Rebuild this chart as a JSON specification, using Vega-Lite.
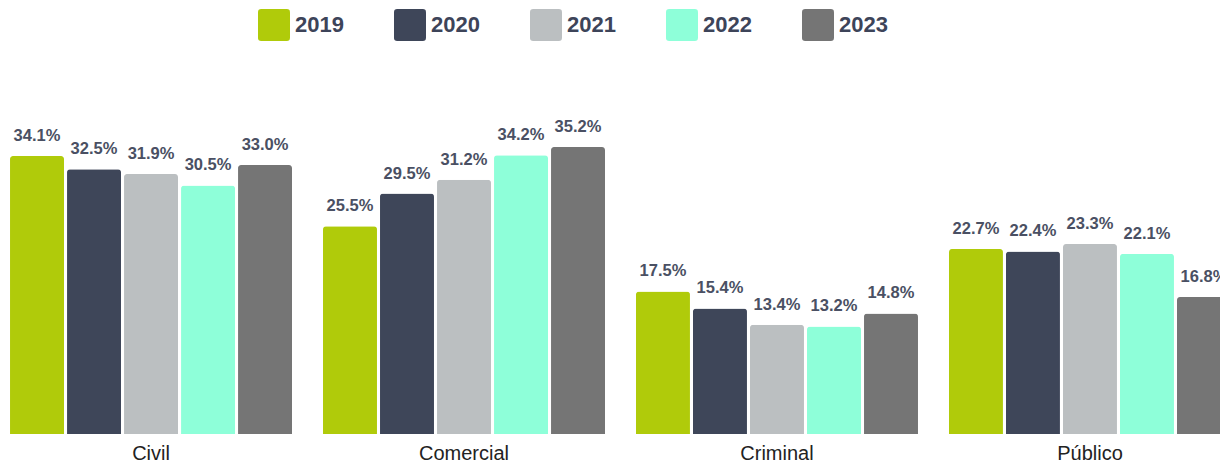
{
  "$schema": "https://vega.github.io/schema/vega-lite/v6.json",
  "width": 1220,
  "height": 326,
  "autosize": {"type": "none"},
  "padding": {"left": 0, "top": 108, "right": 0, "bottom": 29},
  "background": "white",
  "config": {"view": {"stroke": null}, "font": "Liberation Sans"},
  "data": {
    "values": [
      {"category": "Civil", "year": "2019", "value": 0.341},
      {"category": "Civil", "year": "2020", "value": 0.325},
      {"category": "Civil", "year": "2021", "value": 0.319},
      {"category": "Civil", "year": "2022", "value": 0.305},
      {"category": "Civil", "year": "2023", "value": 0.330},
      {"category": "Comercial", "year": "2019", "value": 0.255},
      {"category": "Comercial", "year": "2020", "value": 0.295},
      {"category": "Comercial", "year": "2021", "value": 0.312},
      {"category": "Comercial", "year": "2022", "value": 0.342},
      {"category": "Comercial", "year": "2023", "value": 0.352},
      {"category": "Criminal", "year": "2019", "value": 0.175},
      {"category": "Criminal", "year": "2020", "value": 0.154},
      {"category": "Criminal", "year": "2021", "value": 0.134},
      {"category": "Criminal", "year": "2022", "value": 0.132},
      {"category": "Criminal", "year": "2023", "value": 0.148},
      {"category": "Público", "year": "2019", "value": 0.227},
      {"category": "Público", "year": "2020", "value": 0.224},
      {"category": "Público", "year": "2021", "value": 0.233},
      {"category": "Público", "year": "2022", "value": 0.221},
      {"category": "Público", "year": "2023", "value": 0.168}
    ]
  },
  "encoding": {
    "x": {
      "field": "category",
      "type": "nominal",
      "sort": null,
      "scale": {"range": [0, 1241], "paddingInner": 0.099, "paddingOuter": 0.032},
      "axis": {
        "title": null,
        "labelAngle": 0,
        "labelFontSize": 20,
        "labelColor": "#222222",
        "labelPadding": 9,
        "ticks": false,
        "domain": false
      }
    },
    "xOffset": {
      "field": "year",
      "type": "nominal",
      "sort": null,
      "scale": {"range": [0, 282], "paddingInner": 0.053, "paddingOuter": 0}
    },
    "y": {
      "field": "value",
      "type": "quantitative",
      "scale": {"domain": [0, 0.4]},
      "axis": null
    }
  },
  "layer": [
    {
      "mark": {"type": "bar", "cornerRadiusTopLeft": 3, "cornerRadiusTopRight": 3},
      "encoding": {
        "color": {
          "field": "year",
          "type": "nominal",
          "scale": {
            "domain": ["2019", "2020", "2021", "2022", "2023"],
            "range": ["#b0cb0a", "#3e4659", "#bbbfc1", "#8effd9", "#757575"]
          },
          "legend": {
            "title": null,
            "orient": "none",
            "direction": "horizontal",
            "columns": 5,
            "legendX": 258,
            "legendY": -99,
            "padding": 0,
            "symbolType": "M -0.8 -1 L 0.8 -1 Q 1 -1 1 -0.8 L 1 0.8 Q 1 1 0.8 1 L -0.8 1 Q -1 1 -1 0.8 L -1 -0.8 Q -1 -1 -0.8 -1 Z",
            "symbolSize": 1024,
            "symbolStrokeWidth": 0,
            "symbolOpacity": 1,
            "labelFontSize": 22,
            "labelFontWeight": "bold",
            "labelColor": "#3d4459",
            "labelOffset": 5,
            "columnPadding": 50
          }
        }
      }
    },
    {
      "mark": {
        "type": "text",
        "baseline": "bottom",
        "dy": -12,
        "fontSize": 16.5,
        "fontWeight": "bold",
        "color": "#4a5063"
      },
      "encoding": {
        "text": {"field": "value", "type": "quantitative", "format": ".1%"}
      }
    }
  ]
}
